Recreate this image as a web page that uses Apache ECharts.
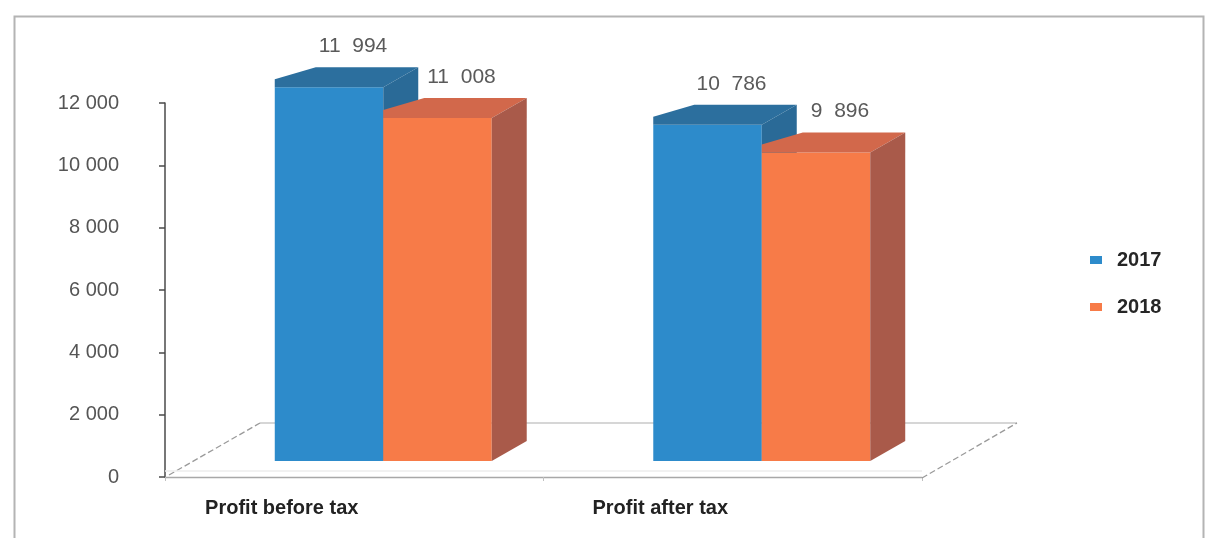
<!DOCTYPE html>
<html>
<head>
<meta charset="utf-8">
<style>
html,body{margin:0;padding:0;background:#fff;}
#chart{width:1209px;height:538px;}
</style>
<script src="https://cdn.jsdelivr.net/npm/echarts@6/dist/echarts.min.js"></script>
</head>
<body>
<div id="chart"></div>
<script>
var categories = ['Profit before tax', 'Profit after tax'];
var seriesNames = ['2017', '2018'];
var values2017 = [11994, 10786];
var values2018 = [11008, 9896];
var yTicks = [0, 2000, 4000, 6000, 8000, 10000, 12000];

var FRONT = ['#2D8BCB', '#F77B48'];
var TOP = ['#2C6F9E', '#D2684B'];
var SIDE = ['#2A6A97', '#A95A4A'];

function fmtLabel(v) {
  var th = Math.floor(v / 1000), rest = v % 1000;
  var r = String(rest); while (r.length < 3) r = '0' + r;
  return th + '  ' + r;
}
function fmtAxis(v) {
  if (v < 1000) return String(v);
  var th = Math.floor(v / 1000), rest = v % 1000;
  var r = String(rest); while (r.length < 3) r = '0' + r;
  return th + ' ' + r;
}

var DX0 = 29, DY0 = -16;   // set-back of bar fronts from floor front edge
var DDX = 35, DDY = -20;   // bar depth
var FLOOR_DX = 95, FLOOR_DY = -54;

function barRender(sIdx) {
  return function (params, api) {
    var cat = api.value(0), val = api.value(1);
    var p0 = api.coord([cat, 0]);
    var p1 = api.coord([cat, val]);
    var band = api.size([1, 0])[0];
    var w = band * 0.2866;
    var center = p0[0] + DX0;
    var left = center - w + sIdx * w;
    var yt = p1[1] + DY0, yb = p0[1] + DY0;
    var children = [
      { type: 'rect', shape: { x: left, y: yt, width: w, height: yb - yt }, style: { fill: FRONT[sIdx] } },
      { type: 'polygon', shape: { points: [[left, yt], [left + w, yt], [left + w + DDX, yt + DDY], [left + DDX + 6, yt + DDY], [left, yt + DDY + 12]] }, style: { fill: TOP[sIdx] } },
      { type: 'polygon', shape: { points: [[left + w, yt], [left + w + DDX, yt + DDY], [left + w + DDX, yb + DDY], [left + w, yb]] }, style: { fill: SIDE[sIdx] } },
      { type: 'text', style: { text: fmtLabel(val), x: left + w / 2 + 24, y: yt + DDY - 21, align: 'center', verticalAlign: 'middle', fill: '#5a5a5a', font: '21px "Liberation Sans", Arial, sans-serif' } }
    ];
    return { type: 'group', children: children };
  };
}

function floorRender(params, api) {
  var cs = params.coordSys;
  var x0 = cs.x, x1 = cs.x + cs.width, y = cs.y + cs.height;
  var line = function (a, b, c, d, col, dash) {
    return { type: 'line', shape: { x1: a, y1: b, x2: c, y2: d }, style: { stroke: col, lineWidth: 1.3, lineDash: dash || null } };
  };
  return {
    type: 'group',
    children: [
      line(x0 + FLOOR_DX, y + FLOOR_DY, x1 + FLOOR_DX, y + FLOOR_DY, '#c8c8c8'),
      line(x0 + 4, y - 2, x0 + FLOOR_DX, y + FLOOR_DY, '#9a9a9a', [6, 3]),
      line(x1, y + 1, x1 + FLOOR_DX, y + FLOOR_DY, '#9a9a9a', [6, 3]),
      line(x0, y - 6, x1, y - 6, '#ececec')
    ]
  };
}

var chart = echarts.init(document.getElementById('chart'));
chart.setOption({
  animation: false,
  backgroundColor: '#fff',
  graphic: [{
    type: 'rect', left: 12, top: 14, shape: { width: 1189, height: 540 },
    style: { fill: 'none', stroke: '#b4b4b4', lineWidth: 2 }, silent: true
  }],
  grid: { left: 165, right: 287, top: 103, bottom: 61 },
  legend: {
    orient: 'vertical', left: 1085, top: 245, itemWidth: 12, itemHeight: 8, itemGap: 27,
    data: seriesNames.map(function (n, i) { return { name: n, icon: 'rect', itemStyle: { color: FRONT[i] } }; }),
    textStyle: { fontFamily: '"Liberation Sans", Arial, sans-serif', fontSize: 20, fontWeight: 'bold', color: '#262626', padding: [0, 0, 0, 10] }
  },
  xAxis: {
    type: 'category', data: categories,
    axisLine: { lineStyle: { color: '#a8a8a8', width: 1.3 } },
    axisTick: { show: true, length: 4, lineStyle: { color: '#c0c0c0' } },
    axisLabel: { margin: 21, padding: [0, 145, 0, 0], fontFamily: '"Liberation Sans", Arial, sans-serif', fontSize: 20, color: '#222', fontWeight: 'bold' }
  },
  yAxis: {
    type: 'value', min: yTicks[0], max: yTicks[yTicks.length - 1], interval: yTicks[1] - yTicks[0],
    axisLine: { show: true, lineStyle: { color: '#4a4a4a', width: 1.5 } },
    axisTick: { show: true, length: 6, lineStyle: { color: '#4a4a4a', width: 1.5 } },
    splitLine: { show: false },
    axisLabel: { margin: 46, formatter: fmtAxis, fontFamily: '"Liberation Sans", Arial, sans-serif', fontSize: 20, color: '#555' }
  },
  series: [
    { type: 'custom', name: 'floor', renderItem: floorRender, data: [[0, 0]], z: 1, silent: true },
    { type: 'custom', name: seriesNames[0], itemStyle: { color: FRONT[0] }, renderItem: barRender(0),
      data: values2017.map(function (v, i) { return [i, v]; }), encode: { x: 0, y: 1 }, z: 2 },
    { type: 'custom', name: seriesNames[1], itemStyle: { color: FRONT[1] }, renderItem: barRender(1),
      data: values2018.map(function (v, i) { return [i, v]; }), encode: { x: 0, y: 1 }, z: 3 }
  ]
});
</script>
</body>
</html>
